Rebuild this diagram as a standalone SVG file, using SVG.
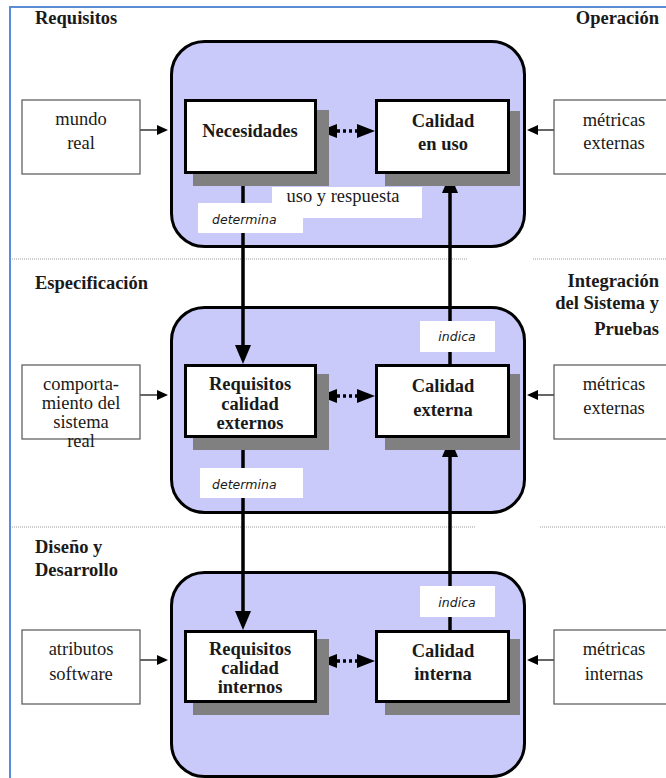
<svg xmlns="http://www.w3.org/2000/svg" width="666" height="778" viewBox="0 0 666 778">
  <style>
    .frame { stroke: #5b8dd6; stroke-width: 2; fill: none; }
    .sep { stroke: #9a9a9a; stroke-width: 1; stroke-dasharray: 1 1; fill: none; }
    .panel { fill: #c9c9fa; stroke: #000; stroke-width: 3; }
    .shadow { fill: #808080; }
    .node { fill: #fff; stroke: #000; stroke-width: 3; }
    .side { fill: #fff; stroke: #555; stroke-width: 1.2; }
    .lbl { fill: #fff; }
    .t { font-family: "Liberation Serif", "Times New Roman", serif; font-size: 18.5px; fill: #1a1a1a; }
    .b { font-weight: bold; }
    .c { text-anchor: middle; }
    .e { text-anchor: end; }
    .i { font-family: "DejaVu Sans", Verdana, sans-serif; font-style: italic; font-size: 12.5px; fill: #1a1a1a; }
    .thick { stroke: #000; stroke-width: 3.5; fill: none; }
    .thin { stroke: #333; stroke-width: 1.5; fill: none; }
    .dots { stroke: #000; stroke-width: 3.5; stroke-dasharray: 3 3; fill: none; }
    .head { fill: #000; }
  </style>

  <!-- page frame -->
  <path class="frame" d="M10,778 V7 H666"/>

  <!-- phase separators -->
  <g id="separators">
    <line class="sep" x1="12" y1="259" x2="468" y2="259"/>
    <line class="sep" x1="533" y1="259" x2="666" y2="259"/>
    <line class="sep" x1="12" y1="527" x2="476" y2="527"/>
    <line class="sep" x1="540" y1="527" x2="666" y2="527"/>
  </g>

  <!-- phase headings -->
  <g id="headings" class="t b">
    <text x="35" y="24">Requisitos</text>
    <text class="e" x="659" y="24">Operación</text>
    <text x="35" y="289">Especificación</text>
    <text class="e" x="659" y="287">Integración</text>
    <text class="e" x="659" y="309">del Sistema y</text>
    <text class="e" x="659" y="335">Pruebas</text>
    <text x="35" y="553">Diseño y</text>
    <text x="35" y="576">Desarrollo</text>
  </g>

  <!-- rounded panels -->
  <g id="panels">
    <rect class="panel" x="171.5" y="41.5" width="353" height="205" rx="33"/>
    <rect class="panel" x="171.5" y="307.5" width="353" height="205" rx="33"/>
    <rect class="panel" x="171.5" y="572.5" width="353" height="204" rx="33"/>
  </g>

  <!-- connectors -->
  <g id="connectors">
    <!-- determina (downwards) -->
    <line class="thick" x1="243" y1="174" x2="243" y2="348"/>
    <polygon class="head" points="243,364 235,345 251,345"/>
    <line class="thick" x1="243" y1="438" x2="243" y2="614"/>
    <polygon class="head" points="243,630 235,611 251,611"/>
    <!-- indica (upwards) -->
    <line class="thick" x1="450" y1="364" x2="450" y2="190"/>
    <polygon class="head" points="450,174 442,193 458,193"/>
    <line class="thick" x1="450" y1="630" x2="450" y2="454"/>
    <polygon class="head" points="450,438 442,457 458,457"/>

    <!-- dotted two-way links -->
    <line class="dots" x1="337" y1="131" x2="358" y2="131"/>
    <polygon class="head" points="319,131 337,124 337,138"/>
    <polygon class="head" points="375,131 357,124 357,138"/>
    <line class="dots" x1="337" y1="396" x2="358" y2="396"/>
    <polygon class="head" points="319,396 337,389 337,403"/>
    <polygon class="head" points="375,396 357,389 357,403"/>
    <line class="dots" x1="337" y1="661" x2="358" y2="661"/>
    <polygon class="head" points="319,661 337,654 337,668"/>
    <polygon class="head" points="375,661 357,654 357,668"/>

    <!-- side inputs -->
    <line class="thin" x1="140" y1="130" x2="158" y2="130"/>
    <polygon class="head" points="168,130 157,125 157,135"/>
    <line class="thin" x1="554" y1="130" x2="536" y2="130"/>
    <polygon class="head" points="527,130 538,125 538,135"/>
    <line class="thin" x1="140" y1="395" x2="158" y2="395"/>
    <polygon class="head" points="168,395 157,390 157,400"/>
    <line class="thin" x1="554" y1="395" x2="536" y2="395"/>
    <polygon class="head" points="527,395 538,390 538,400"/>
    <line class="thin" x1="140" y1="660" x2="158" y2="660"/>
    <polygon class="head" points="168,660 157,655 157,665"/>
    <line class="thin" x1="554" y1="660" x2="536" y2="660"/>
    <polygon class="head" points="527,660 538,655 538,665"/>
  </g>

  <!-- connector labels -->
  <g id="labels">
    <rect class="lbl" x="272" y="187" width="150" height="31"/>
    <text class="t c" x="343" y="202">uso y respuesta</text>
    <rect class="lbl" x="198" y="203" width="105" height="30"/>
    <text class="i" x="212" y="224">determina</text>
    <rect class="lbl" x="200" y="468" width="103" height="30"/>
    <text class="i" x="212" y="489">determina</text>
    <rect class="lbl" x="420" y="321" width="75" height="31"/>
    <text class="i c" x="457" y="341">indica</text>
    <rect class="lbl" x="420" y="586" width="75" height="31"/>
    <text class="i c" x="457" y="607">indica</text>
  </g>

  <!-- Requisitos phase -->
  <g id="mundo-real">
    <rect class="side" x="22" y="100" width="118" height="74"/>
    <text class="t c" x="81" y="125">mundo</text>
    <text class="t c" x="81" y="149">real</text>
  </g>
  <g id="necesidades">
    <rect class="shadow" x="193" y="110" width="136" height="76"/>
    <rect class="node" x="185.5" y="100.5" width="130" height="72"/>
    <text class="t b c" x="250" y="137">Necesidades</text>
  </g>
  <g id="calidad-en-uso">
    <rect class="shadow" x="385" y="111" width="135" height="75"/>
    <rect class="node" x="376.5" y="100.5" width="132" height="72"/>
    <text class="t b c" x="443" y="127">Calidad</text>
    <text class="t b c" x="443" y="150">en uso</text>
  </g>
  <g id="metricas-externas-1">
    <rect class="side" x="554" y="100" width="118" height="74"/>
    <text class="t c" x="614" y="126">métricas</text>
    <text class="t c" x="614" y="149">externas</text>
  </g>

  <!-- Especificación phase -->
  <g id="comportamiento">
    <rect class="side" x="22" y="365" width="118" height="74"/>
    <text class="t c" x="81" y="390">comporta-</text>
    <text class="t c" x="81" y="409">miento del</text>
    <text class="t c" x="81" y="428">sistema</text>
    <text class="t c" x="81" y="447">real</text>
  </g>
  <g id="requisitos-externos">
    <rect class="shadow" x="193" y="374" width="136" height="76"/>
    <rect class="node" x="185.5" y="365.5" width="130" height="71"/>
    <text class="t b c" x="250" y="390">Requisitos</text>
    <text class="t b c" x="250" y="410">calidad</text>
    <text class="t b c" x="250" y="429">externos</text>
  </g>
  <g id="calidad-externa">
    <rect class="shadow" x="385" y="374" width="135" height="76"/>
    <rect class="node" x="376.5" y="365.5" width="132" height="71"/>
    <text class="t b c" x="443" y="392">Calidad</text>
    <text class="t b c" x="443" y="416">externa</text>
  </g>
  <g id="metricas-externas-2">
    <rect class="side" x="554" y="365" width="118" height="74"/>
    <text class="t c" x="614" y="390">métricas</text>
    <text class="t c" x="614" y="414">externas</text>
  </g>

  <!-- Diseño y Desarrollo phase -->
  <g id="atributos-software">
    <rect class="side" x="22" y="630" width="118" height="74"/>
    <text class="t c" x="81" y="655">atributos</text>
    <text class="t c" x="81" y="680">software</text>
  </g>
  <g id="requisitos-internos">
    <rect class="shadow" x="193" y="639" width="136" height="76"/>
    <rect class="node" x="185.5" y="631.5" width="130" height="70"/>
    <text class="t b c" x="250" y="655">Requisitos</text>
    <text class="t b c" x="250" y="674">calidad</text>
    <text class="t b c" x="250" y="693">internos</text>
  </g>
  <g id="calidad-interna">
    <rect class="shadow" x="385" y="639" width="135" height="76"/>
    <rect class="node" x="376.5" y="631.5" width="132" height="70"/>
    <text class="t b c" x="443" y="657">Calidad</text>
    <text class="t b c" x="443" y="680">interna</text>
  </g>
  <g id="metricas-internas">
    <rect class="side" x="554" y="630" width="118" height="74"/>
    <text class="t c" x="614" y="655">métricas</text>
    <text class="t c" x="614" y="680">internas</text>
  </g>
</svg>
